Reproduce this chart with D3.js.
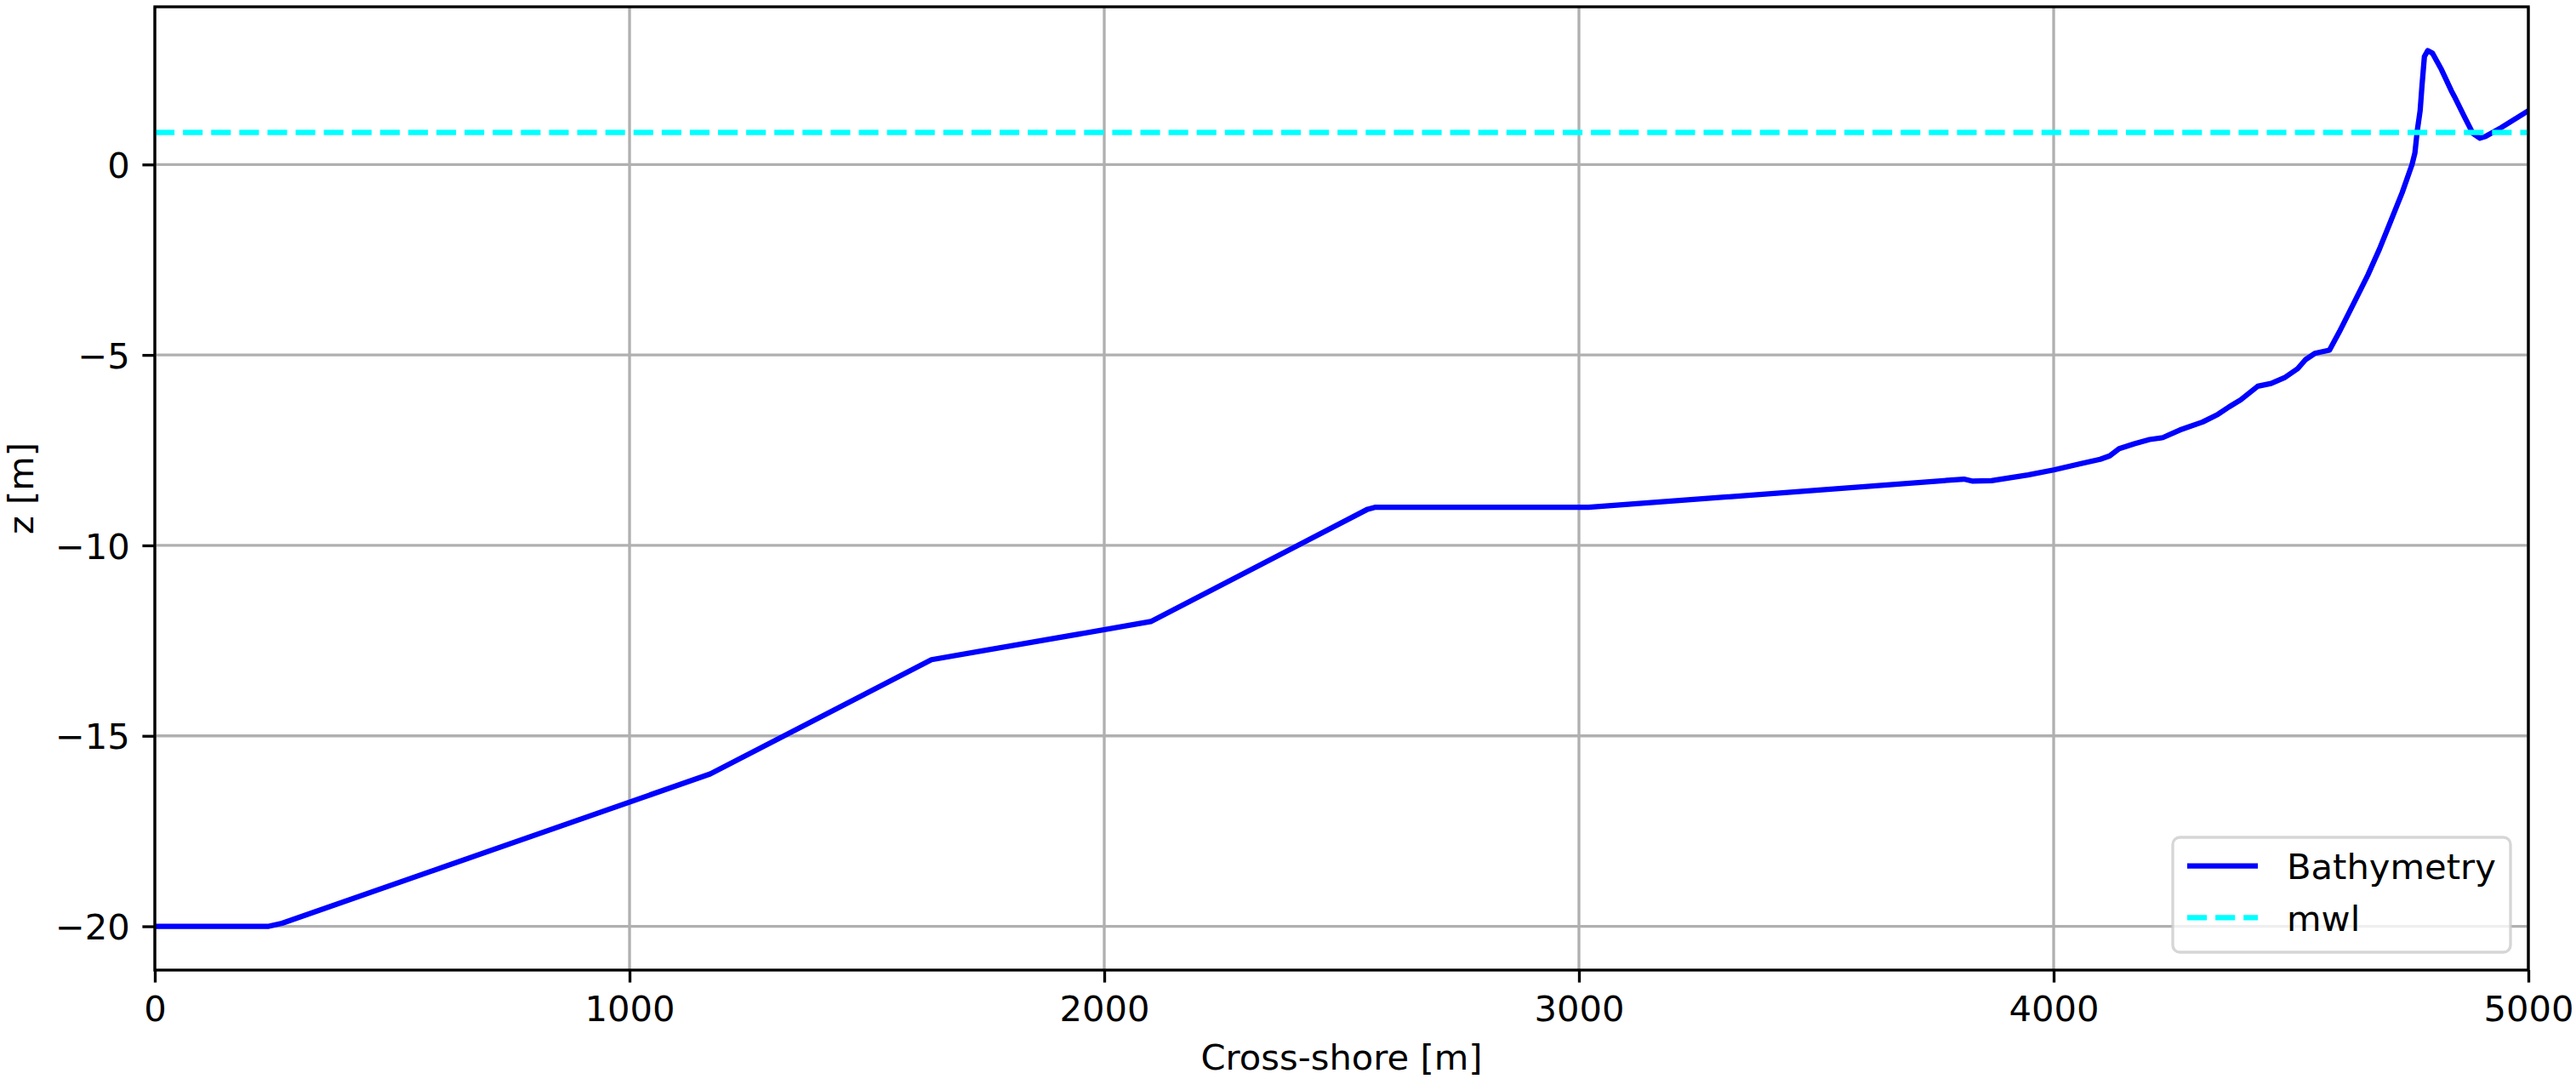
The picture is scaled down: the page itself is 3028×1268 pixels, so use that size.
<!DOCTYPE html>
<html>
<head>
<meta charset="utf-8">
<script src="https://cdn.jsdelivr.net/npm/d3@7"></script>
<style>
  html, body { margin: 0; padding: 0; background: #fff; }
  svg { display: block; }
  text { font-family: "DejaVu Sans", sans-serif; fill: #000; }
</style>
</head>
<body>
<svg id="chart" width="3028" height="1268"></svg>
<script>
// ---- data ----
const crossShore = [0, 240, 268, 1170, 1636, 2098, 2555, 2570, 3020, 3811, 3828, 3869, 3946, 4000, 4058, 4098, 4118, 4138, 4170, 4202, 4230, 4266, 4314, 4346, 4370, 4394, 4430, 4458, 4486, 4514, 4530, 4550, 4581, 4602, 4632, 4662, 4686, 4710, 4734, 4755, 4761, 4766, 4772, 4776, 4781, 4788, 4798, 4817, 4838, 4844, 4865, 4883, 4898, 4910, 4943, 5000];
const bathymetry = [-20, -20, -19.92, -16, -13, -12, -9.05, -9, -9, -8.26, -8.31, -8.30, -8.15, -8.02, -7.85, -7.74, -7.65, -7.46, -7.33, -7.22, -7.17, -6.97, -6.76, -6.56, -6.36, -6.18, -5.82, -5.75, -5.60, -5.36, -5.13, -4.96, -4.875, -4.39, -3.65, -2.90, -2.23, -1.49, -0.745, 0, 0.30, 0.89, 1.41, 2.08, 2.83, 2.99, 2.92, 2.49, 1.93, 1.79, 1.26, 0.82, 0.69, 0.74, 0.97, 1.41];
const mwl = 0.84;
const xTicks = [0, 1000, 2000, 3000, 4000, 5000];
const yTicks = [-20, -15, -10, -5, 0];
const seriesNames = ["Bathymetry", "mwl"];
const xLabel = "Cross-shore [m]";
const yLabel = "z [m]";

(function () {
// ---- layout ----
const pL = 182, pR = 2972, pT = 8, pB = 1140;
const fs = 41.67;
const svg = d3.select("#chart");

const x = d3.scaleLinear().domain([0, 5000]).range([pL, pR]);
const yMin = d3.min(bathymetry), yMax = d3.max(bathymetry);
const yPad = (yMax - yMin) * 0.05;
const y = d3.scaleLinear().domain([yMin - yPad, yMax + yPad]).range([pB, pT]);

// grid
const grid = svg.append("g");
grid.selectAll("line.gx").data(xTicks).join("line").attr("class", "gx")
  .attr("x1", d => x(d)).attr("x2", d => x(d)).attr("y1", pT).attr("y2", pB)
  .attr("stroke", "#b0b0b0").attr("stroke-width", 3.33);
grid.selectAll("line.gy").data(yTicks).join("line").attr("class", "gy")
  .attr("y1", d => y(d)).attr("y2", d => y(d)).attr("x1", pL).attr("x2", pR)
  .attr("stroke", "#b0b0b0").attr("stroke-width", 3.33);

// clip
svg.append("clipPath").attr("id", "clip").append("rect")
  .attr("x", pL).attr("y", pT).attr("width", pR - pL).attr("height", pB - pT);

const plot = svg.append("g").attr("clip-path", "url(#clip)");
const pts = crossShore.map((c, i) => [c, bathymetry[i]]);
const line = d3.line().x(d => x(d[0])).y(d => y(d[1]));
plot.append("path").datum(pts).attr("d", line)
  .attr("fill", "none").attr("stroke", "#0000ff").attr("stroke-width", 6.25)
  .attr("stroke-linejoin", "round").attr("stroke-linecap", "square");
plot.append("path").datum([[0, mwl], [5000, mwl]]).attr("d", line)
  .attr("fill", "none").attr("stroke", "#00ffff").attr("stroke-width", 6.25)
  .attr("stroke-dasharray", "23.1,10");

// axes
const fmt = d3.format("d");
const xAxis = d3.axisBottom(x).tickValues(xTicks).tickFormat(fmt).tickSize(14.6).tickPadding(14.6);
const yAxis = d3.axisLeft(y).tickValues(yTicks).tickFormat(d => fmt(d)).tickSize(14.6).tickPadding(14.6);

const gx = svg.append("g").attr("transform", `translate(0,${pB})`).call(xAxis);
const gy = svg.append("g").attr("transform", `translate(${pL},0)`).call(yAxis);
[gx, gy].forEach(g => {
  g.select(".domain").remove();
  g.selectAll(".tick line").attr("stroke", "#000").attr("stroke-width", 3.33);
  g.selectAll(".tick text").attr("font-family", "DejaVu Sans").attr("font-size", fs).attr("fill", "#000");
});
gx.selectAll(".tick text").attr("dy", null).attr("y", 60);
gy.selectAll(".tick text").attr("dy", null).attr("y", 15.2);

// spines
svg.append("rect").attr("x", pL).attr("y", pT).attr("width", pR - pL).attr("height", pB - pT)
  .attr("fill", "none").attr("stroke", "#000").attr("stroke-width", 3.33);

// axis labels
svg.append("text").attr("x", (pL + pR) / 2).attr("y", 1257)
  .attr("text-anchor", "middle").attr("font-size", fs).text(xLabel);
svg.append("text").attr("transform", `translate(39,${(pT + pB) / 2}) rotate(-90)`)
  .attr("text-anchor", "middle").attr("font-size", fs).text(yLabel);

// legend
const lg = svg.append("g");
lg.append("rect").attr("x", 2554).attr("y", 984).attr("width", 2951 - 2554).attr("height", 1119 - 984)
  .attr("rx", 8.3).attr("ry", 8.3)
  .attr("fill", "#fff").attr("fill-opacity", 0.8)
  .attr("stroke", "#cccccc").attr("stroke-opacity", 0.8).attr("stroke-width", 3.33);
const legendItems = [
  { name: seriesNames[0], color: "#0000ff", dash: null, yc: 1017.7 },
  { name: seriesNames[1], color: "#00ffff", dash: "23.1,10", yc: 1078.3 }
];
legendItems.forEach(it => {
  lg.append("line").attr("x1", 2571).attr("x2", 2654).attr("y1", it.yc).attr("y2", it.yc)
    .attr("stroke", it.color).attr("stroke-width", 6.25)
    .attr("stroke-dasharray", it.dash);
  lg.append("text").attr("x", 2688).attr("y", it.yc + 15.2).attr("font-size", fs).text(it.name);
});
})();
</script>
</body>
</html>
